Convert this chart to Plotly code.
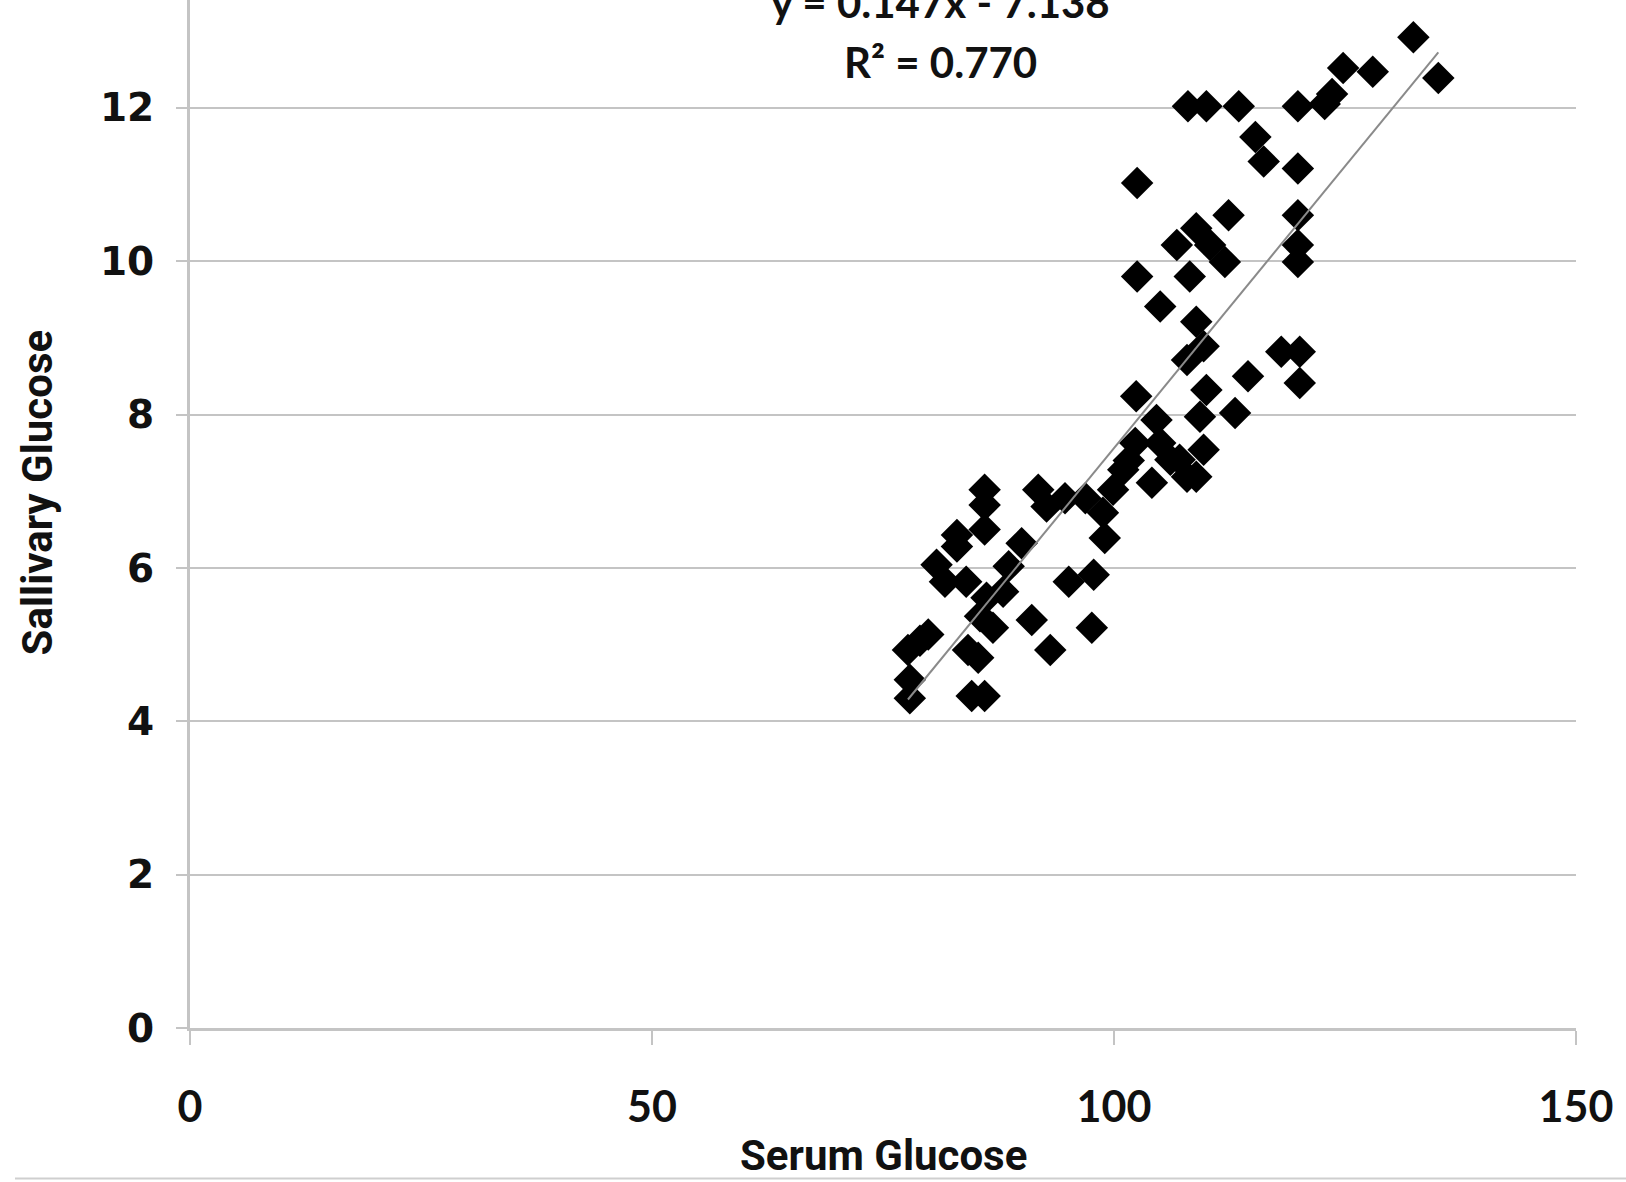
import plotly.graph_objects as go

# Serum glucose (x) and salivary glucose (y)
serum = [77.9, 77.9, 77.7, 79.9, 79.0, 80.8, 81.7, 83.0, 83.0, 84.0,
         84.6, 86.0, 84.2, 85.3, 86.9, 85.5, 86.2, 88.0, 88.6, 90.0,
         86.0, 86.0, 86.0, 91.1, 93.1, 95.1, 97.8, 97.6, 99.0, 91.8,
         92.7, 94.7, 96.9, 98.8, 99.9, 101.0, 101.6, 102.3, 104.1, 102.4,
         104.6, 105.0, 106.1, 109.7, 108.9, 107.9, 107.1, 110.0, 109.3, 113.1,
         114.5, 120.1, 118.1, 120.1, 108.0, 110.0, 113.5, 115.3, 116.2, 119.9,
         119.9, 102.5, 102.5, 105.0, 106.8, 108.9, 108.2, 110.4, 112.0, 112.4,
         108.9, 109.7, 107.9, 119.9, 119.9, 119.9, 122.8, 123.6, 124.8, 128.0,
         132.4, 135.1]
saliva = [4.30, 4.54, 4.93, 5.13, 5.05, 6.04, 5.82, 6.43, 6.28, 5.82,
          4.33, 4.33, 4.93, 4.83, 5.22, 5.37, 5.61, 5.69, 6.02, 6.32,
          7.02, 6.82, 6.50, 5.32, 4.93, 5.82, 5.91, 5.22, 6.39, 7.02,
          6.80, 6.91, 6.91, 6.72, 7.02, 7.28, 7.40, 7.63, 7.11, 8.24,
          7.93, 7.63, 7.41, 7.54, 7.19, 7.19, 7.41, 8.32, 7.97, 8.02,
          8.50, 8.41, 8.82, 8.82, 12.02, 12.02, 12.02, 11.62, 11.30, 12.02,
          11.21, 11.02, 9.80, 9.41, 10.21, 10.43, 9.80, 10.21, 9.99, 10.60,
          9.21, 8.89, 8.71, 10.60, 10.21, 9.99, 12.05, 12.18, 12.52, 12.47,
          12.92, 12.39]

# Trendline as stated on the chart
slope = 0.147
intercept = -7.138
r_squared = 0.770

x_ticks = [0, 50, 100, 150]
y_ticks = [0, 2, 4, 6, 8, 10, 12]

x_line = [min(serum), max(serum)]
y_line = [slope * v + intercept for v in x_line]

GRID = "#c4c4c4"

fig = go.Figure()
fig.add_trace(go.Scatter(
    x=serum, y=saliva, mode="markers",
    marker=dict(symbol="diamond", size=25, color="black", line=dict(width=0)),
    showlegend=False, hoverinfo="skip"))
fig.add_trace(go.Scatter(
    x=x_line, y=y_line, mode="lines",
    line=dict(color="#8a8a8a", width=2),
    showlegend=False, hoverinfo="skip"))

fig.update_layout(
    width=1626, height=1182,
    margin=dict(l=190, r=50, t=0, b=153.5),
    paper_bgcolor="white", plot_bgcolor="white",
    hovermode=False,
    xaxis=dict(range=[0, 150], tickvals=x_ticks, ticktext=[str(v) for v in x_ticks],
               showgrid=False, zeroline=False,
               showline=True, linecolor=GRID, linewidth=3,
               ticks="outside", ticklen=14, tickwidth=1.5, tickcolor=GRID,
               ticklabelstandoff=25,
               tickfont=dict(family="Lato", size=43, color="#111111", weight="bold")),
    yaxis=dict(range=[0, 13.406], tickvals=y_ticks, ticktext=[str(v) for v in y_ticks],
               showgrid=True, gridcolor=GRID, gridwidth=2, zeroline=False,
               showline=True, linecolor=GRID, linewidth=3,
               ticks="outside", ticklen=11, tickwidth=2, tickcolor=GRID,
               ticklabelstandoff=14,
               tickfont=dict(family="DejaVu Sans", size=39, color="#111111", weight="bold")),
)

fig.add_annotation(text="Serum Glucose", xref="paper", yref="paper",
                   x=0.5004, y=(1028.5 - 1156) / 1028.5, xanchor="center", yanchor="middle",
                   showarrow=False,
                   font=dict(family="Roboto", size=42, color="#111111", weight="bold"))
fig.add_annotation(text="Sallivary Glucose", xref="paper", yref="paper",
                   x=-0.1104, y=0.521, xanchor="center", yanchor="middle", textangle=-90,
                   showarrow=False,
                   font=dict(family="Roboto", size=42, color="#111111", weight="bold"))
fig.add_annotation(text=f"y = {slope:.3f}x - {abs(intercept):.3f}", xref="paper", yref="paper",
                   x=(941 - 190) / 1386, y=(1028.5 - 2) / 1028.5, xanchor="center", yanchor="middle",
                   showarrow=False,
                   font=dict(family="Lato", size=42, color="#111111", weight="bold"))
fig.add_annotation(text=f"R² = {r_squared:.3f}", xref="paper", yref="paper",
                   x=(941 - 190) / 1386, y=(1028.5 - 62) / 1028.5, xanchor="center", yanchor="middle",
                   showarrow=False,
                   font=dict(family="Lato", size=42, color="#111111", weight="bold"))
fig.add_shape(type="line", xref="paper", yref="paper",
              x0=(15 - 190) / 1386, x1=(1626 - 190) / 1386,
              y0=(1028.5 - 1179) / 1028.5, y1=(1028.5 - 1179) / 1028.5,
              line=dict(color="#cfcfcf", width=2))

fig.write_html("out.html")
